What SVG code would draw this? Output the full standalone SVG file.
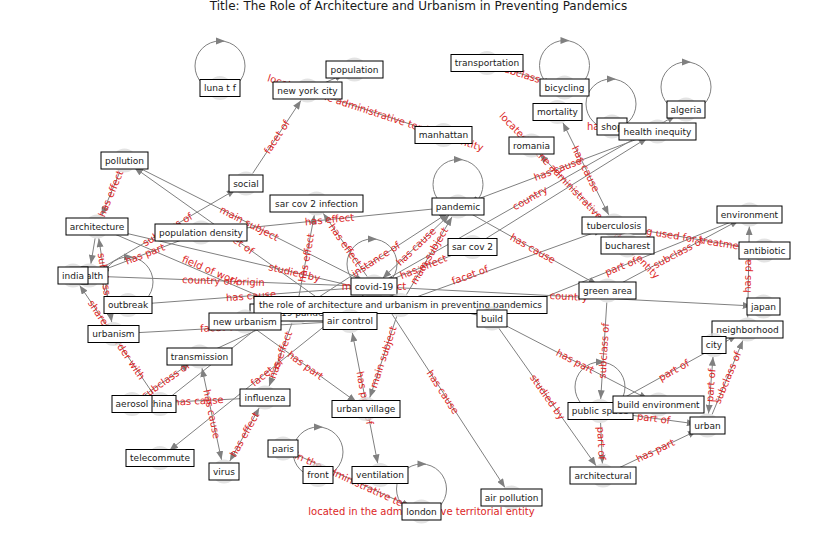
<svg xmlns="http://www.w3.org/2000/svg" xmlns:xlink="http://www.w3.org/1999/xlink" width="837" height="559" viewBox="0 0 837 559">
  <style>
    .e { stroke: #808080; stroke-width: 1; fill: none; marker-end: url(#arrow); }
    .e2 { stroke: #808080; stroke-width: 1; fill: none; marker-end: url(#arrow); marker-start: url(#arrowStart); }
    .loop { stroke: #808080; stroke-width: 1; fill: none; }
    .lh { fill: #808080; }
    .el { font-family: "DejaVu Sans", sans-serif; font-size: 10px; fill: #dc2626; text-anchor: middle; dominant-baseline: central; }
    .dot { fill: #d9d9d9; fill-opacity: 0.75; }
    .box { fill: #ffffff; stroke: #000000; stroke-width: 1; }
    .nl { font-family: "DejaVu Sans", sans-serif; font-size: 9px; fill: #1a1a1a; text-anchor: middle; }
    .title { font-family: "DejaVu Sans", sans-serif; font-size: 12px; fill: #1a1a1a; text-anchor: middle; }
  </style>
  <defs>
    <marker id="arrow" viewBox="0 0 10 8" refX="10" refY="4" markerWidth="9" markerHeight="7" markerUnits="userSpaceOnUse" orient="auto">
      <path d="M0,0 L10,4 L0,8 z" fill="#808080"/>
    </marker>
    <marker id="arrowStart" viewBox="0 0 10 8" refX="10" refY="4" markerWidth="9" markerHeight="7" markerUnits="userSpaceOnUse" orient="auto-start-reverse">
      <path d="M0,0 L10,4 L0,8 z" fill="#808080"/>
    </marker>
    <path id="loopHead" d="M-4,-3.5 L5,0 L-4,3.5 z"/>
    <!-- visible window for the paris/london label -->
    <clipPath id="parisLondonClip"><rect x="282" y="430" width="159" height="90"/></clipPath>
  </defs>

  <rect x="0" y="0" width="837" height="559" fill="#ffffff"/>
  <text class="title" x="418.5" y="10">Title: The Role of Architecture and Urbanism in Preventing Pandemics</text>

  <g id="connectors">
    <!-- straight edges -->
    <line class="e" x1="318.5" y1="85.6" x2="343.5" y2="74.4"/>
    <line class="e" x1="432.1" y1="131.3" x2="318.9" y2="94.2"/>
    <line class="e" x1="498.4" y1="66.6" x2="553.1" y2="83.9"/>
    <line class="e" x1="252.6" y1="173.5" x2="300.9" y2="100.5"/>
    <line class="e" x1="619.2" y1="236.8" x2="539.8" y2="154.2"/>
    <line class="e2" x1="562.9" y1="122.7" x2="608.7" y2="214.8"/>
    <line class="e" x1="646.3" y1="135.7" x2="469.2" y2="202.3"/>
    <line class="e" x1="384.4" y1="280.6" x2="675.6" y2="115.4"/>
    <line class="e" x1="119.9" y1="171.6" x2="101.6" y2="215.4"/>
    <line class="e" x1="135.2" y1="165.9" x2="363.3" y2="281.1"/>
    <line class="e" x1="340.2" y1="314.0" x2="134.3" y2="167.5"/>
    <line class="e" x1="480.3" y1="315.8" x2="108.7" y2="229.2"/>
    <line class="e" x1="108.0" y1="231.2" x2="285.0" y2="307.3"/>
    <line class="e" x1="362.0" y1="286.1" x2="85.0" y2="275.9"/>
    <line class="e" x1="362.0" y1="287.4" x2="140.0" y2="304.1"/>
    <line class="e" x1="99.4" y1="269.4" x2="235.6" y2="189.6"/>
    <line class="e" x1="189.8" y1="236.8" x2="100.2" y2="271.2"/>
    <line class="e" x1="95.1" y1="238.3" x2="90.9" y2="263.7"/>
    <line class="e2" x1="111.7" y1="322.1" x2="98.8" y2="238.4"/>
    <line class="e" x1="153.3" y1="394.1" x2="79.7" y2="285.4"/>
    <line class="e" x1="141.8" y1="397.1" x2="189.7" y2="363.4"/>
    <line class="e" x1="144.0" y1="403.4" x2="253.0" y2="398.1"/>
    <line class="e2" x1="202.0" y1="368.2" x2="221.5" y2="459.8"/>
    <line class="e2" x1="259.2" y1="408.0" x2="229.8" y2="461.0"/>
    <line class="e" x1="291.9" y1="323.3" x2="269.1" y2="386.2"/>
    <line class="e" x1="364.6" y1="294.0" x2="169.4" y2="450.5"/>
    <line class="e" x1="254.7" y1="328.5" x2="356.3" y2="402.0"/>
    <line class="e" x1="396.7" y1="316.4" x2="369.8" y2="397.6"/>
    <line class="e2" x1="352.3" y1="332.8" x2="377.7" y2="463.2"/>
    <line class="e" x1="380.6" y1="296.6" x2="504.9" y2="487.4"/>
    <line class="e" x1="498.9" y1="328.3" x2="596.1" y2="465.7"/>
    <line class="e" x1="502.7" y1="324.0" x2="647.8" y2="399.0"/>
    <line class="e" x1="606.8" y1="302.5" x2="600.7" y2="399.0"/>
    <line class="e" x1="600.6" y1="423.0" x2="602.4" y2="463.5"/>
    <line class="e" x1="611.9" y1="412.6" x2="695.6" y2="423.9"/>
    <line class="e" x1="613.8" y1="470.3" x2="696.7" y2="430.7"/>
    <line class="e" x1="610.5" y1="405.2" x2="737.0" y2="335.3"/>
    <line class="e2" x1="708.5" y1="413.5" x2="713.0" y2="357.0"/>
    <line class="e" x1="712.1" y1="414.4" x2="742.9" y2="340.4"/>
    <line class="e" x1="747.7" y1="317.5" x2="749.3" y2="226.5"/>
    <line class="e" x1="625.8" y1="227.5" x2="752.7" y2="248.5"/>
    <line class="e" x1="503.1" y1="314.0" x2="738.4" y2="219.0"/>
    <line class="e" x1="618.1" y1="284.8" x2="738.9" y2="220.2"/>
    <line class="e" x1="386.0" y1="287.1" x2="751.5" y2="305.9"/>
    <line class="e" x1="468.5" y1="212.4" x2="597.0" y2="284.6"/>
    <line class="e" x1="361.3" y1="316.9" x2="602.7" y2="229.6"/>
    <line class="e" x1="306.1" y1="305.4" x2="447.9" y2="213.1"/>
    <line class="e2" x1="382.7" y1="278.2" x2="449.3" y2="214.8"/>
    <line class="e" x1="406.5" y1="294.6" x2="452.0" y2="216.9"/>
    <line class="e" x1="461.4" y1="251.5" x2="385.1" y2="282.0"/>
    <line class="e" x1="212.9" y1="231.3" x2="446.1" y2="207.7"/>
    <line class="e" x1="367.2" y1="276.6" x2="323.3" y2="213.4"/>
    <line class="e" x1="298.2" y1="300.2" x2="314.3" y2="215.3"/>
    <line class="e" x1="125.5" y1="333.3" x2="338.0" y2="321.7"/>
    <line class="e" x1="293.9" y1="453.5" x2="410.6" y2="506.5"/>
    <line class="e" x1="482.7" y1="240.6" x2="647.3" y2="137.9"/>
    <line class="e" x1="210.4" y1="351.5" x2="285.1" y2="317.0"/>
    <line class="e" x1="169.9" y1="397.3" x2="286.1" y2="305.3"/>

    <!-- self loops -->
    <circle class="loop" cx="220" cy="66" r="25"/>
    <use xlink:href="#loopHead" class="lh" x="220" y="41"/>
    <circle class="loop" cx="564.5" cy="65.5" r="25"/>
    <use xlink:href="#loopHead" class="lh" x="564.5" y="40.5"/>
    <circle class="loop" cx="611" cy="104" r="25"/>
    <use xlink:href="#loopHead" class="lh" x="611" y="79"/>
    <circle class="loop" cx="686" cy="87" r="25"/>
    <use xlink:href="#loopHead" class="lh" x="686" y="62"/>
    <circle class="loop" cx="458" cy="184.5" r="25"/>
    <use xlink:href="#loopHead" class="lh" x="458" y="159.5"/>
    <circle class="loop" cx="372" cy="264" r="25"/>
    <use xlink:href="#loopHead" class="lh" x="372" y="239"/>
    <circle class="loop" cx="128" cy="282" r="25"/>
    <use xlink:href="#loopHead" class="lh" x="128" y="257"/>
    <circle class="loop" cx="600" cy="387" r="25"/>
    <use xlink:href="#loopHead" class="lh" x="600" y="362"/>
    <circle class="loop" cx="318" cy="452" r="25"/>
    <use xlink:href="#loopHead" class="lh" x="318" y="427"/>
    <circle class="loop" cx="421.5" cy="489" r="25"/>
    <use xlink:href="#loopHead" class="lh" x="421.5" y="464"/>

    <!-- edge labels -->
    <text class="el" transform="translate(375.5,112.8) rotate(18.1)">located in the administrative territorial entity</text>
    <text class="el" transform="translate(525.8,75.3) rotate(17.5)">subclass of</text>
    <text class="el" transform="translate(612,126.5)">has cause</text>
    <text class="el" transform="translate(276.8,137) rotate(-56.5)">facet of</text>
    <text class="el" transform="translate(579.5,195.5) rotate(46.2)">located in the administrative territorial entity</text>
    <text class="el" transform="translate(585.8,168.8) rotate(63.5)">has cause</text>
    <text class="el" transform="translate(557.8,169) rotate(-20.6)">has cause</text>
    <text class="el" transform="translate(530,198) rotate(-29.6)">country</text>
    <text class="el" transform="translate(110.8,193.5) rotate(-67.4)">has effect</text>
    <text class="el" transform="translate(249.3,223.5) rotate(26.8)">main subject</text>
    <text class="el" transform="translate(237.3,240.8) rotate(35.4)">facet of</text>
    <text class="el" transform="translate(294.5,272.5) rotate(13.1)">studied by</text>
    <text class="el" transform="translate(211,270.5) rotate(23)">field of work</text>
    <text class="el" transform="translate(223.5,281) rotate(2.1)">country of origin</text>
    <text class="el" transform="translate(251,295.8) rotate(-4.3)">has cause</text>
    <text class="el" transform="translate(167.5,229.5) rotate(-30.4)">subclass of</text>
    <text class="el" transform="translate(145,254) rotate(-21)">has part</text>
    <text class="el" transform="translate(105.3,280.3) rotate(81.3)">subclass of</text>
    <text class="el" transform="translate(116.5,339.8) rotate(55.9)">shares border with</text>
    <text class="el" transform="translate(165.8,380.3) rotate(-35.1)">subclass of</text>
    <text class="el" transform="translate(198.5,400.8) rotate(-2.8)">has cause</text>
    <text class="el" transform="translate(211.8,414) rotate(78)">has cause</text>
    <text class="el" transform="translate(244.5,434.5) rotate(-61)">has effect</text>
    <text class="el" transform="translate(280.5,354.8) rotate(-70)">has effect</text>
    <text class="el" transform="translate(267,372.3) rotate(-38.7)">facet of</text>
    <text class="el" transform="translate(305.5,365.3) rotate(35.9)">has part</text>
    <text class="el" transform="translate(383.3,357) rotate(-71.6)">main subject</text>
    <text class="el" transform="translate(365,398) rotate(79)">has part of</text>
    <text class="el" transform="translate(442.8,392) rotate(56.9)">has cause</text>
    <text class="el" transform="translate(547.5,397) rotate(54.7)">studied by</text>
    <text class="el" transform="translate(575.3,361.3) rotate(27.3)">has part</text>
    <text class="el" transform="translate(603.8,350.8) rotate(-86.4)">subclass of</text>
    <text class="el" transform="translate(601.5,443.3) rotate(87.3)">part of</text>
    <text class="el" transform="translate(653.8,418.3) rotate(7.7)">part of</text>
    <text class="el" transform="translate(655.3,450.5) rotate(-25.6)">has part</text>
    <text class="el" transform="translate(673.8,370.3) rotate(-28.9)">part of</text>
    <text class="el" transform="translate(710.8,385.3) rotate(-85.4)">part of</text>
    <text class="el" transform="translate(727.5,377.5) rotate(-67.4)">subclass of</text>
    <text class="el" transform="translate(747.5,272) rotate(-89)">has part</text>
    <text class="el" transform="translate(689.3,238) rotate(9.4)">drug used for treatment</text>
    <text class="el" transform="translate(620.8,266.5) rotate(-22)">part of</text>
    <text class="el" transform="translate(678.5,252.5) rotate(-28.2)">subclass of</text>
    <text class="el" transform="translate(568.8,296.5) rotate(2.9)">country</text>
    <text class="el" transform="translate(532.8,248.5) rotate(29.3)">has cause</text>
    <text class="el" transform="translate(470,275) rotate(-19.9)">facet of</text>
    <text class="el" transform="translate(376,259.3) rotate(-33.1)">instance of</text>
    <text class="el" transform="translate(416,246.5) rotate(-43.6)">has cause</text>
    <text class="el" transform="translate(429.3,255.8) rotate(-59.7)">main subject</text>
    <text class="el" transform="translate(423.3,266.8) rotate(-21.9)">has effect</text>
    <text class="el" transform="translate(329.5,219.5) rotate(-5.8)">has effect</text>
    <text class="el" transform="translate(345.3,245) rotate(55.3)">has effect</text>
    <text class="el" transform="translate(306.3,257.8) rotate(-79.3)">has effect</text>
    <text class="el" transform="translate(374,286.5)">main subject</text>
    <text class="el" transform="translate(219,327.5) rotate(-3.1)">facet of</text>
    <text class="el" transform="translate(421.5,511.5)">located in the administrative territorial entity</text>
    <g clip-path="url(#parisLondonClip)">
      <text class="el" transform="translate(362,485) rotate(24.5)">located in the administrative territorial entity</text>
    </g>
  </g>

  <g id="n-luna-t-f"><circle class="dot" cx="220" cy="88" r="12"/><rect class="box" x="200" y="79.5" width="40" height="17"/><text class="nl" x="220" y="91.2">luna t f</text></g>
  <g id="n-population"><circle class="dot" cx="354.5" cy="69.5" r="12"/><rect class="box" x="326" y="61" width="57" height="17"/><text class="nl" x="354.5" y="72.7">population</text></g>
  <g id="n-new-york-city"><circle class="dot" cx="307.5" cy="90.5" r="12"/><rect class="box" x="273" y="82" width="69" height="17"/><text class="nl" x="307.5" y="93.7">new york city</text></g>
  <g id="n-transportation"><circle class="dot" cx="487" cy="63" r="12"/><rect class="box" x="451" y="54.5" width="72" height="17"/><text class="nl" x="487" y="66.2">transportation</text></g>
  <g id="n-bicycling"><circle class="dot" cx="564.5" cy="87.5" r="12"/><rect class="box" x="540" y="79" width="49" height="17"/><text class="nl" x="564.5" y="90.7">bicycling</text></g>
  <g id="n-mortality"><circle class="dot" cx="557.5" cy="112" r="12"/><rect class="box" x="533" y="103.5" width="49" height="17"/><text class="nl" x="557.5" y="115.2">mortality</text></g>
  <g id="n-shop"><circle class="dot" cx="612" cy="126.5" r="12"/><rect class="box" x="597" y="118" width="30" height="17"/><text class="nl" x="612" y="129.7">shop</text></g>
  <g id="n-algeria"><circle class="dot" cx="686" cy="109.5" r="12"/><rect class="box" x="667" y="101" width="38" height="17"/><text class="nl" x="686" y="112.7">algeria</text></g>
  <g id="n-health-inequity"><circle class="dot" cx="657.5" cy="131.5" r="12"/><rect class="box" x="619" y="123" width="77" height="17"/><text class="nl" x="657.5" y="134.7">health inequity</text></g>
  <g id="n-manhattan"><circle class="dot" cx="443.5" cy="135" r="12"/><rect class="box" x="415" y="126.5" width="57" height="17"/><text class="nl" x="443.5" y="138.2">manhattan</text></g>
  <g id="n-romania"><circle class="dot" cx="531.5" cy="145.5" r="12"/><rect class="box" x="509" y="137" width="45" height="17"/><text class="nl" x="531.5" y="148.7">romania</text></g>
  <g id="n-pollution"><circle class="dot" cx="124.5" cy="160.5" r="12"/><rect class="box" x="101" y="152" width="47" height="17"/><text class="nl" x="124.5" y="163.7">pollution</text></g>
  <g id="n-social"><circle class="dot" cx="246" cy="183.5" r="12"/><rect class="box" x="229" y="175" width="34" height="17"/><text class="nl" x="246" y="186.7">social</text></g>
  <g id="n-pandemic"><circle class="dot" cx="458" cy="206.5" r="12"/><rect class="box" x="432" y="198" width="52" height="17"/><text class="nl" x="458" y="209.7">pandemic</text></g>
  <g id="n-sar-cov-2-infection"><circle class="dot" cx="316.5" cy="203.5" r="12"/><rect class="box" x="270" y="195" width="93" height="17"/><text class="nl" x="316.5" y="206.7">sar cov 2 infection</text></g>
  <g id="n-architecture"><circle class="dot" cx="97" cy="226.5" r="12"/><rect class="box" x="66" y="218" width="62" height="17"/><text class="nl" x="97" y="229.7">architecture</text></g>
  <g id="n-population-density"><circle class="dot" cx="201" cy="232.5" r="12"/><rect class="box" x="155" y="224" width="92" height="17"/><text class="nl" x="201" y="235.7">population density</text></g>
  <g id="n-sar-cov-2"><circle class="dot" cx="472.5" cy="247" r="12"/><rect class="box" x="448" y="238.5" width="49" height="17"/><text class="nl" x="472.5" y="250.2">sar cov 2</text></g>
  <g id="n-tuberculosis"><circle class="dot" cx="614" cy="225.5" r="12"/><rect class="box" x="582" y="217" width="64" height="17"/><text class="nl" x="614" y="228.7">tuberculosis</text></g>
  <g id="n-environment"><circle class="dot" cx="749.5" cy="214.5" r="12"/><rect class="box" x="717" y="206" width="65" height="17"/><text class="nl" x="749.5" y="217.7">environment</text></g>
  <g id="n-bucharest"><circle class="dot" cx="627.5" cy="245.5" r="12"/><rect class="box" x="601" y="237" width="53" height="17"/><text class="nl" x="627.5" y="248.7">bucharest</text></g>
  <g id="n-antibiotic"><circle class="dot" cx="764.5" cy="250.5" r="12"/><rect class="box" x="739" y="242" width="51" height="17"/><text class="nl" x="764.5" y="253.7">antibiotic</text></g>
  <g id="n-health"><circle class="dot" cx="89" cy="275.5" r="12"/><rect class="box" x="70" y="267" width="38" height="17"/><text class="nl" x="89" y="278.7">health</text></g>
  <g id="n-india"><circle class="dot" cx="73" cy="275.5" r="12"/><rect class="box" x="58" y="267" width="30" height="17"/><text class="nl" x="73" y="278.7">india</text></g>
  <g id="n-outbreak"><circle class="dot" cx="128" cy="305" r="12"/><rect class="box" x="104" y="296.5" width="48" height="17"/><text class="nl" x="128" y="308.2">outbreak</text></g>
  <g id="n-covid-19"><circle class="dot" cx="374" cy="286.5" r="12"/><rect class="box" x="351" y="278" width="46" height="17"/><text class="nl" x="374" y="289.7">covid-19</text></g>
  <g id="n-covid-19-pandemic"><circle class="dot" cx="297" cy="312.5" r="12"/><rect class="box" x="250" y="304" width="94" height="17"/><text class="nl" x="297" y="315.7">covid 19 pandemic</text></g>
  <g id="n-the-role"><circle class="dot" cx="400.5" cy="305" r="12"/><rect class="box" x="254" y="296.5" width="293" height="17"/><text class="nl" x="400.5" y="308.2">the role of architecture and urbanism in preventing pandemics</text></g>
  <g id="n-green-area"><circle class="dot" cx="607.5" cy="290.5" r="12"/><rect class="box" x="579" y="282" width="57" height="17"/><text class="nl" x="607.5" y="293.7">green area</text></g>
  <g id="n-japan"><circle class="dot" cx="763.5" cy="306.5" r="12"/><rect class="box" x="747" y="298" width="33" height="17"/><text class="nl" x="763.5" y="309.7">japan</text></g>
  <g id="n-new-urbanism"><circle class="dot" cx="245" cy="321.5" r="12"/><rect class="box" x="209" y="313" width="72" height="17"/><text class="nl" x="245" y="324.7">new urbanism</text></g>
  <g id="n-air-control"><circle class="dot" cx="350" cy="321" r="12"/><rect class="box" x="323" y="312.5" width="54" height="17"/><text class="nl" x="350" y="324.2">air control</text></g>
  <g id="n-build"><circle class="dot" cx="492" cy="318.5" r="12"/><rect class="box" x="477" y="310" width="30" height="17"/><text class="nl" x="492" y="321.7">build</text></g>
  <g id="n-neighborhood"><circle class="dot" cx="747.5" cy="329.5" r="12"/><rect class="box" x="712" y="321" width="71" height="17"/><text class="nl" x="747.5" y="332.7">neighborhood</text></g>
  <g id="n-urbanism"><circle class="dot" cx="113.5" cy="334" r="12"/><rect class="box" x="88" y="325.5" width="51" height="17"/><text class="nl" x="113.5" y="337.2">urbanism</text></g>
  <g id="n-city"><circle class="dot" cx="714" cy="345" r="12"/><rect class="box" x="702" y="336.5" width="24" height="17"/><text class="nl" x="714" y="348.2">city</text></g>
  <g id="n-transmission"><circle class="dot" cx="199.5" cy="356.5" r="12"/><rect class="box" x="167" y="348" width="65" height="17"/><text class="nl" x="199.5" y="359.7">transmission</text></g>
  <g id="n-influenza"><circle class="dot" cx="265" cy="397.5" r="12"/><rect class="box" x="240" y="389" width="50" height="17"/><text class="nl" x="265" y="400.7">influenza</text></g>
  <g id="n-china"><circle class="dot" cx="160" cy="404" r="12"/><rect class="box" x="144" y="395.5" width="32" height="17"/><text class="nl" x="160" y="407.2">china</text></g>
  <g id="n-aerosol"><circle class="dot" cx="132" cy="404" r="12"/><rect class="box" x="112" y="395.5" width="40" height="17"/><text class="nl" x="132" y="407.2">aerosol</text></g>
  <g id="n-urban-village"><circle class="dot" cx="366" cy="409" r="12"/><rect class="box" x="332" y="400.5" width="68" height="17"/><text class="nl" x="366" y="412.2">urban village</text></g>
  <g id="n-public-space"><circle class="dot" cx="600" cy="411" r="12"/><rect class="box" x="568" y="402.5" width="65" height="17"/><text class="nl" x="600" y="414.2">public space</text></g>
  <g id="n-build-environment"><circle class="dot" cx="658.5" cy="404.5" r="12"/><rect class="box" x="613" y="396" width="91" height="17"/><text class="nl" x="658.5" y="407.7">build environment</text></g>
  <g id="n-urban"><circle class="dot" cx="707.5" cy="425.5" r="12"/><rect class="box" x="690" y="417" width="35" height="17"/><text class="nl" x="707.5" y="428.7">urban</text></g>
  <g id="n-telecommute"><circle class="dot" cx="160" cy="458" r="12"/><rect class="box" x="126" y="449.5" width="68" height="17"/><text class="nl" x="160" y="461.2">telecommute</text></g>
  <g id="n-paris"><circle class="dot" cx="283" cy="448.5" r="12"/><rect class="box" x="268" y="440" width="30" height="17"/><text class="nl" x="283" y="451.7">paris</text></g>
  <g id="n-front"><circle class="dot" cx="318" cy="475" r="12"/><rect class="box" x="303" y="466.5" width="30" height="17"/><text class="nl" x="318" y="478.2">front</text></g>
  <g id="n-virus"><circle class="dot" cx="224" cy="471.5" r="12"/><rect class="box" x="209" y="463" width="30" height="17"/><text class="nl" x="224" y="474.7">virus</text></g>
  <g id="n-ventilation"><circle class="dot" cx="380" cy="475" r="12"/><rect class="box" x="352" y="466.5" width="56" height="17"/><text class="nl" x="380" y="478.2">ventilation</text></g>
  <g id="n-architectural"><circle class="dot" cx="603" cy="475.5" r="12"/><rect class="box" x="570" y="467" width="66" height="17"/><text class="nl" x="603" y="478.7">architectural</text></g>
  <g id="n-air-pollution"><circle class="dot" cx="511.5" cy="497.5" r="12"/><rect class="box" x="481" y="489" width="61" height="17"/><text class="nl" x="511.5" y="500.7">air pollution</text></g>
  <g id="n-london"><circle class="dot" cx="421.5" cy="511.5" r="12"/><rect class="box" x="402" y="503" width="39" height="17"/><text class="nl" x="421.5" y="514.7">london</text></g>
</svg>
